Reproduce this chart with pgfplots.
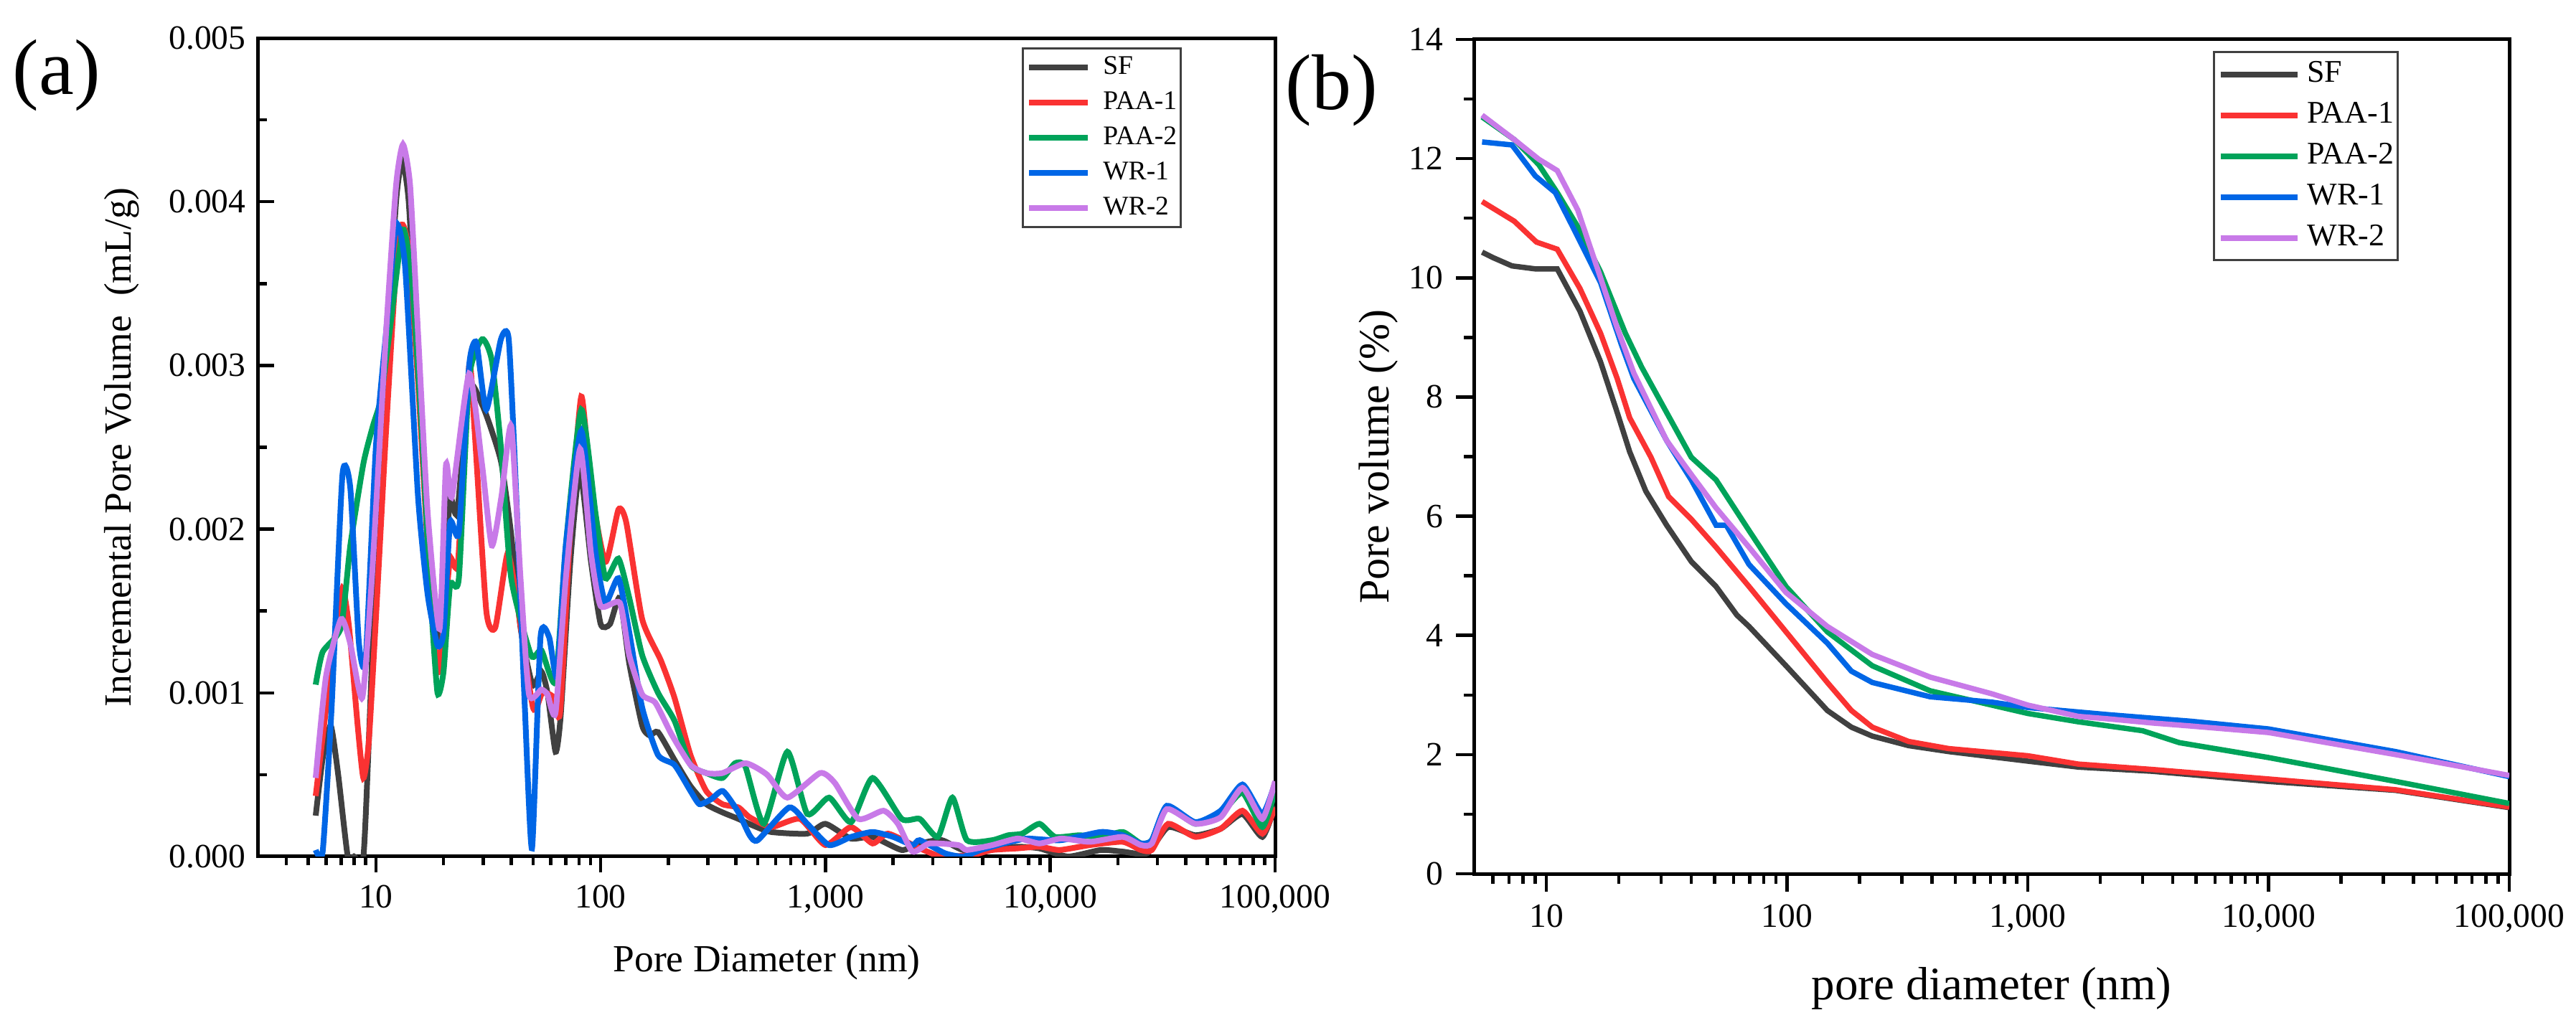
\documentclass[border=0pt]{standalone}
\usepackage{fontspec}
\setmainfont{Liberation Serif}
\usepackage{pgfplots}
\pgfplotsset{compat=1.18}
\definecolor{cSF}{RGB}{64,64,64}
\definecolor{cPA}{RGB}{250,50,50}
\definecolor{cPB}{RGB}{0,163,90}
\definecolor{cWA}{RGB}{0,102,230}
\definecolor{cWB}{RGB}{200,122,232}
\begin{document}
\begin{tikzpicture}
\useasboundingbox (0,0) rectangle (718pt,286.6pt);
\node[font=\fontsize{22}{24}\selectfont] at (15.8pt,265.6pt) {(a)};
\node[font=\fontsize{22}{24}\selectfont] at (371.2pt,261.4pt) {(b)};
\begin{axis}[
  scale only axis, xmode=log,
  at={(72pt,47.8pt)}, anchor=south west,
  width=283.4pt, height=228.2pt,
  xmin=3, xmax=100000, ymin=0, ymax=0.005,
  axis line style={line width=1pt},
  every tick/.style={black, line width=0.9pt},
  xtick pos=bottom, ytick pos=left,
  xtick align=outside, ytick align=inside,
  major tick length=4.5pt, minor tick length=2.4pt,
  xtick={10,100,1000,10000,100000},
  xticklabels={10,100,{1,000},{10,000},{100,000}},
  minor xtick={4,5,6,7,8,9,20,30,40,50,60,70,80,90,200,300,400,500,600,700,800,900,2000,3000,4000,5000,6000,7000,8000,9000,20000,30000,40000,50000,60000,70000,80000,90000},
  ytick={0,0.001,0.002,0.003,0.004,0.005},
  yticklabels={0.000,0.001,0.002,0.003,0.004,0.005},
  minor y tick num=1,
  scaled y ticks=false,
  ticklabel style={font=\fontsize{9.5}{11}\selectfont},
  xlabel={Pore Diameter (nm)},
  ylabel={Incremental Pore Volume\ \ (mL/g)},
  every axis x label/.style={at={([yshift=-29.6pt]axis description cs:0.5,0)}, anchor=center, font=\fontsize{10.7}{12}\selectfont},
  every axis y label/.style={at={([xshift=-38pt]axis description cs:0,0.5)}, rotate=90, anchor=center, font=\fontsize{10.7}{12}\selectfont},
  legend cell align=left,
  legend style={at={(0.908,0.989)}, anchor=north east, draw=black!75, line width=0.6pt, fill=white,
    font=\fontsize{7.5}{8}\selectfont, inner xsep=1pt, inner ysep=1.8pt, row sep=2.8pt, column sep=3.4pt,
    nodes={inner sep=0pt, text height=5.4pt, text depth=1.6pt}},
  legend image code/.code={\draw[#1] (0pt,0pt) -- (16.4pt,0pt);},
  every axis plot/.append style={line width=1.6pt, smooth, tension=0.35},
]
\addplot[cSF] coordinates {
(5.4,0.00025)(5.8,0.0006)(6.3,0.0008)(6.8,0.0005)(7.5,0.0)(8.0,0.0)(8.8,0.0)(9.3,0.0007)(10,0.0018)(11.1,0.0030)(12.3,0.0040)(13.1,0.00425)(14.0,0.0040)(15.4,0.0030)(17.0,0.0020)(18.8,0.0014)(19.5,0.0013)(20.5,0.0018)(21.4,0.0022)(23.0,0.0021)(26.0,0.00287)(29.7,0.00276)(32.8,0.0026)(36.2,0.0024)(39.9,0.00198)(44,0.0014)(49.7,0.00105)(54.5,0.00113)(58,0.0010)(63,0.00064)(66.4,0.00086)(73.3,0.0018)(80.8,0.00236)(90.6,0.0018)(100,0.00142)(110,0.00142)(121.7,0.00158)(134,0.00118)(153,0.0008)(165,0.00074)(180,0.00076)(213,0.00059)(251,0.00043)(295,0.00032)(348,0.00027)(410,0.00023)(475,0.00019)(573,0.00015)(830,0.00014)(1000,0.0002)(1297,0.00011)(1620,0.00012)(2183,0.00004)(2627,0.00008)(3290,0.0001)(4100,0.00004)(5520,0.00005)(7160,0.00006)(8950,0.00005)(12000,0.0)(16800,0.00004)(21000,0.00003)(27000,0.00002)(33450,0.00018)(44200,0.00013)(57300,0.00017)(71600,0.00026)(87800,0.00012)(100000,0.00031)
};
\addlegendentry{SF}
\addplot[cPA] coordinates {
(5.4,0.00037)(6.0,0.0009)(6.5,0.0013)(7.1,0.00164)(7.6,0.0014)(8.3,0.0008)(8.8,0.00048)(9.3,0.0007)(10,0.00145)(11.1,0.0026)(12.3,0.0036)(13.1,0.00386)(14.0,0.0037)(15.4,0.0029)(17.0,0.0019)(18.8,0.00113)(20,0.0014)(21.4,0.00182)(23.2,0.0018)(26.0,0.0030)(27.5,0.0026)(31,0.0015)(34,0.0014)(38.5,0.00185)(42,0.0016)(50,0.00091)(55,0.0010)(61,0.00098)(66,0.00088)(73.3,0.0020)(82,0.00281)(90.6,0.00225)(105,0.0018)(120,0.00212)(130,0.00204)(153,0.00145)(185,0.0012)(213,0.00097)(251,0.00062)(295,0.0004)(348,0.00032)(410,0.0003)(460,0.00024)(573,0.00018)(770,0.00023)(1000,0.00007)(1297,0.00018)(1620,0.00008)(1900,0.00014)(2627,0.00005)(3290,0.0)(4500,0.00001)(5520,0.00004)(7160,0.00005)(8950,0.00006)(11000,0.00004)(15000,0.00007)(21000,0.00009)(25300,0.00004)(28300,0.00004)(33450,0.0002)(44200,0.00012)(57300,0.00017)(71600,0.00028)(87800,0.00014)(100000,0.0003)
};
\addlegendentry{PAA-1}
\addplot[cPB] coordinates {
(5.4,0.00105)(5.8,0.00125)(7.0,0.0014)(7.7,0.0019)(8.8,0.0024)(9.7,0.00263)(10.5,0.00279)(11.5,0.0032)(13.2,0.00383)(14.5,0.0035)(16,0.0026)(17.5,0.0016)(18.8,0.0010)(20,0.00113)(21.4,0.00166)(23.4,0.0017)(26,0.00292)(29.7,0.00316)(32.8,0.00303)(36,0.0025)(40,0.0017)(49,0.00123)(54.5,0.00126)(63,0.00107)(70,0.0019)(82,0.00273)(95,0.00209)(105,0.0017)(120,0.00182)(134,0.00158)(153,0.00123)(180,0.001)(213,0.00083)(251,0.00056)(295,0.00051)(348,0.00048)(396,0.00057)(440,0.00055)(532,0.0002)(677,0.00064)(830,0.00026)(1038,0.00036)(1300,0.00021)(1620,0.00048)(2183,0.00023)(2627,0.00023)(3162,0.00012)(3670,0.00036)(4256,0.0001)(5520,0.0001)(6500,0.00013)(7500,0.00014)(8950,0.0002)(10500,0.00012)(13450,0.00013)(16820,0.00012)(21030,0.00015)(25300,0.00008)(28300,0.0001)(33000,0.0003)(44200,0.0002)(57300,0.00026)(71600,0.00039)(87800,0.00018)(100000,0.0004)
};
\addlegendentry{PAA-2}
\addplot[cWA] coordinates {
(5.4,0.00004)(5.8,0.00003)(6.35,0.0009)(7.1,0.00233)(7.7,0.00225)(8.4,0.00131)(9.0,0.0012)(10,0.0025)(11.1,0.0032)(12.3,0.00386)(13.5,0.0036)(15.4,0.0022)(17.0,0.0016)(18.8,0.00129)(20,0.00137)(21.4,0.00204)(23.4,0.00198)(26,0.0030)(28,0.00314)(31,0.00273)(36,0.00316)(39,0.00316)(42,0.00225)(46,0.00091)(49.5,0.00005)(54,0.00134)(59,0.00134)(64,0.0011)(70,0.0019)(82,0.0026)(95,0.00185)(105,0.00155)(120,0.0017)(134,0.00137)(153,0.00091)(180,0.00062)(213,0.00056)(251,0.0004)(275,0.00032)(310,0.00035)(350,0.0004)(410,0.00027)(460,0.00013)(500,0.0001)(690,0.0003)(830,0.0002)(1038,0.00007)(1300,0.00012)(1620,0.00015)(2000,0.00012)(2440,0.00007)(2627,0.0001)(3400,0.00002)(4100,0.0)(4900,0.00004)(6200,0.00008)(7160,0.0001)(8000,0.00011)(11170,0.0001)(16820,0.00015)(21030,0.00013)(25300,0.00008)(28300,0.0001)(33000,0.00031)(44200,0.00021)(57300,0.00028)(71600,0.00044)(87800,0.00026)(100000,0.00045)
};
\addlegendentry{WR-1}
\addplot[cWB] coordinates {
(5.4,0.00048)(6.0,0.0011)(7.0,0.00145)(7.7,0.0013)(8.7,0.00097)(9.6,0.0017)(11.1,0.0032)(12.3,0.0041)(13.2,0.00435)(14.2,0.0041)(15.4,0.0032)(17.0,0.0021)(19.2,0.00139)(20.5,0.00239)(21.8,0.0022)(26,0.00295)(29.7,0.00239)(32.8,0.0019)(36.2,0.0022)(40,0.00263)(44,0.0017)(48,0.00099)(54.5,0.00102)(58,0.00099)(63,0.00088)(70,0.0017)(81,0.00249)(90.6,0.00185)(100,0.00153)(121.7,0.00155)(134,0.00123)(153,0.00099)(175,0.00094)(206,0.00075)(251,0.00056)(295,0.00051)(348,0.00051)(442,0.00057)(550,0.0005)(677,0.00036)(946,0.00051)(1100,0.00045)(1400,0.00023)(1812,0.00028)(2100,0.0002)(2440,0.00003)(2900,0.00008)(3900,0.00007)(4256,0.00004)(5520,0.00007)(7160,0.00011)(8950,0.00008)(11170,0.00011)(15000,0.00009)(21030,0.00012)(25300,0.00007)(28300,0.00008)(33000,0.00029)(44200,0.0002)(57300,0.00024)(71600,0.00042)(87800,0.00023)(100000,0.00046)
};
\addlegendentry{WR-2}
\end{axis}
\begin{axis}[
  scale only axis, xmode=log,
  at={(410.8pt,43pt)}, anchor=south west,
  width=288.6pt, height=232.6pt,
  xmin=5, xmax=100000, ymin=0, ymax=14,
  axis line style={line width=1pt},
  every tick/.style={black, line width=0.9pt},
  xtick pos=bottom, ytick pos=left,
  xtick align=outside, ytick align=outside,
  major tick length=5pt, minor tick length=2.8pt,
  xtick={10,100,1000,10000,100000},
  xticklabels={10,100,{1,000},{10,000},{100,000}},
  minor xtick={6,7,8,9,20,30,40,50,60,70,80,90,200,300,400,500,600,700,800,900,2000,3000,4000,5000,6000,7000,8000,9000,20000,30000,40000,50000,60000,70000,80000,90000},
  ytick={0,2,4,6,8,10,12,14},
  yticklabels={0,2,4,6,8,10,12,14},
  minor y tick num=1,
  ticklabel style={font=\fontsize{9.5}{11}\selectfont},
  xlabel={pore diameter (nm)},
  ylabel={Pore volume (\%)},
  every axis x label/.style={at={([yshift=-32pt]axis description cs:0.5,0)}, anchor=center, font=\fontsize{13}{15}\selectfont},
  every axis y label/.style={at={([xshift=-26.6pt]axis description cs:0,0.5)}, rotate=90, anchor=center, font=\fontsize{12}{14}\selectfont},
  legend cell align=left,
  legend style={at={(0.893,0.986)}, anchor=north east, draw=black!75, line width=0.6pt, fill=white,
    font=\fontsize{8.8}{9.5}\selectfont, inner xsep=1pt, inner ysep=2.1pt, row sep=3.2pt, column sep=2pt,
    nodes={inner sep=0pt, text height=6.3pt, text depth=1.9pt}},
  legend image code/.code={\draw[#1] (0pt,0pt) -- (21.4pt,0pt);},
  every axis plot/.append style={line width=1.5pt},
]
\addplot[cSF] coordinates {
(5.41,10.43)(6.0,10.34)(7.2,10.2)(9.0,10.15)(11.1,10.15)(13.8,9.44)(16.8,8.59)(19.7,7.74)(22.2,7.08)(25.9,6.42)(31.6,5.85)(40,5.24)(50.7,4.82)(61.9,4.34)(69.5,4.15)(99,3.49)(147,2.74)(185,2.46)(226,2.31)(320,2.15)(470,2.05)(1000,1.89)(1623,1.79)(3290,1.72)(10000,1.55)(33700,1.40)(100000,1.11)
};
\addlegendentry{SF}
\addplot[cPA] coordinates {
(5.41,11.28)(7.36,10.95)(9.1,10.6)(11.1,10.48)(13.8,9.82)(16.8,9.07)(19.7,8.31)(22.2,7.65)(27.2,6.99)(32.2,6.33)(40,5.95)(50.7,5.48)(69.5,4.82)(99,4.06)(147,3.21)(185,2.74)(226,2.46)(320,2.22)(470,2.1)(1000,1.98)(1623,1.84)(3290,1.75)(10000,1.59)(33700,1.41)(100000,1.12)
};
\addlegendentry{PAA-1}
\addplot[cPB] coordinates {
(5.41,12.7)(7.36,12.32)(9.3,11.9)(11.1,11.43)(13.5,10.86)(16.8,10.1)(21.3,9.07)(24.9,8.5)(31.6,7.74)(40,6.99)(50.7,6.61)(69.5,5.76)(99,4.82)(147,4.06)(226,3.49)(393,3.07)(709,2.83)(1000,2.69)(1623,2.55)(3000,2.4)(4260,2.2)(10000,1.95)(33700,1.55)(100000,1.18)
};
\addlegendentry{PAA-2}
\addplot[cWA] coordinates {
(5.41,12.28)(7.2,12.23)(9.0,11.71)(10.9,11.43)(13.2,10.77)(16.8,9.92)(20.5,8.88)(23.1,8.31)(31.6,7.27)(40,6.61)(50.7,5.85)(55.9,5.85)(69.5,5.19)(99,4.53)(147,3.87)(185,3.4)(226,3.21)(393,2.97)(709,2.88)(1000,2.79)(2150,2.67)(3290,2.61)(4730,2.56)(10000,2.43)(33700,2.05)(100000,1.63)
};
\addlegendentry{WR-1}
\addplot[cWB] coordinates {
(5.41,12.73)(7.36,12.32)(9.3,11.99)(11.1,11.8)(13.5,11.14)(16.8,10.0)(19.7,9.16)(23.1,8.4)(31.6,7.27)(40,6.7)(50.7,6.14)(69.5,5.48)(99,4.72)(147,4.15)(226,3.68)(393,3.3)(709,3.02)(1000,2.83)(1623,2.64)(2150,2.6)(3290,2.53)(4730,2.48)(10000,2.37)(33700,2.0)(100000,1.65)
};
\addlegendentry{WR-2}
\end{axis}
\end{tikzpicture}
\end{document}
